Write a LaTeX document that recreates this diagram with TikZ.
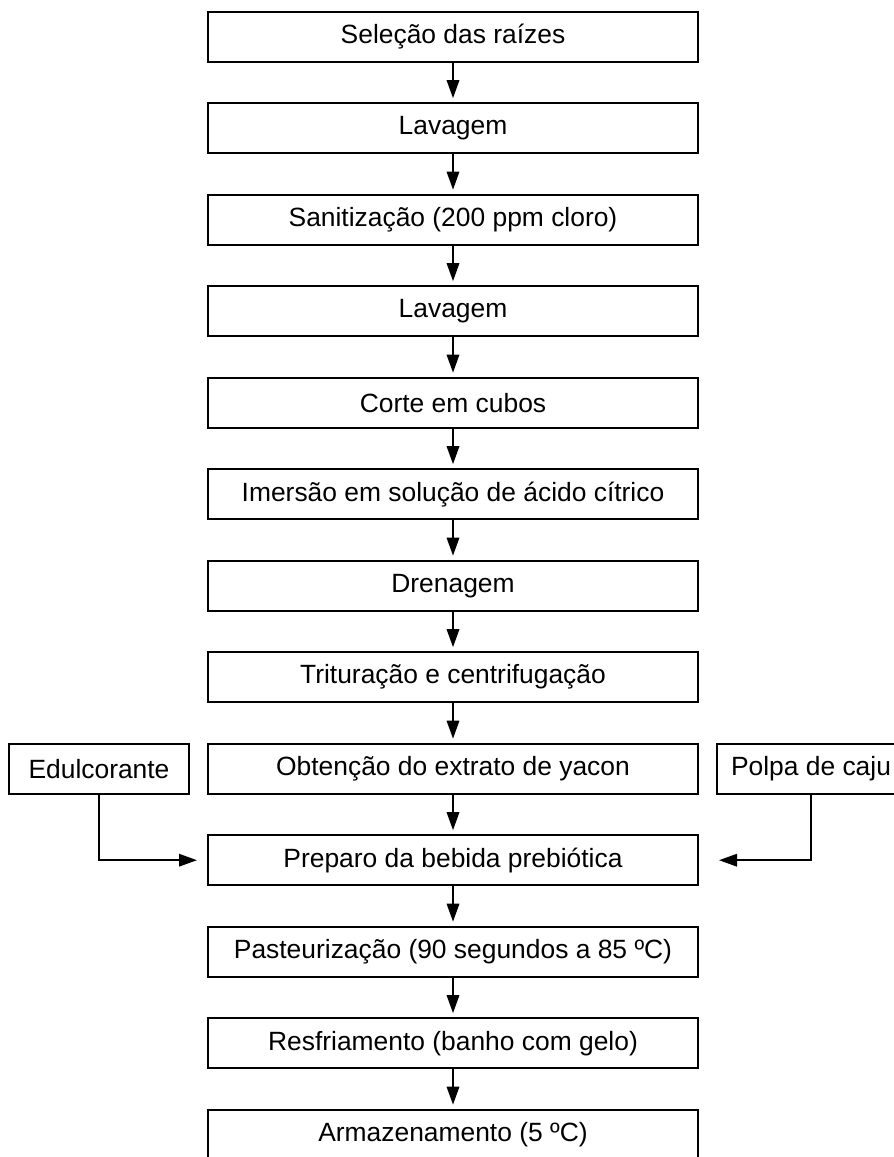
\documentclass[tikz,border=0pt]{standalone}
\usepackage{fontspec}
\setmainfont{Liberation Sans}
\usetikzlibrary{arrows.meta}

\begin{document}
\begin{tikzpicture}[x=0.5pt, y=-0.5pt,
        stepbox/.style={draw, line width=1pt, rectangle, minimum width=245pt, minimum height=25pt, inner sep=0pt, font=\fontsize{13.2}{15}\selectfont},
        sidebox/.style={stepbox, minimum width=90pt},
        flow/.style={line width=1pt, -{Triangle[length=9pt,width=6.2pt]}}]
            \useasboundingbox (0,0) rectangle (894,1157);
            \node[stepbox] (sel) at (453,36.7) {Seleção das raízes};
            \node[stepbox] (lav1) at (453,128.2) {Lavagem};
            \node[stepbox] (san) at (453,219.7) {Sanitização (200 ppm cloro)};
            \node[stepbox] (lav2) at (453,311.2) {Lavagem};
            \node[stepbox] (cor) at (453,402.7) {Corte em cubos};
            \node[stepbox] (ime) at (453,494.2) {Imersão em solução de ácido cítrico};
            \node[stepbox] (dre) at (453,585.7) {Drenagem};
            \node[stepbox] (tri) at (453,677.2) {Trituração e centrifugação};
            \node[stepbox] (obt) at (453,768.7) {Obtenção do extrato de yacon};
            \node[stepbox] (pre) at (453,860.2) {Preparo da bebida prebiótica};
            \node[stepbox] (pas) at (453,951.7) {Pasteurização (90 segundos a 85 ºC)};
            \node[stepbox] (res) at (453,1043.2) {Resfriamento (banho com gelo)};
            \node[stepbox] (arm) at (453,1134.7) {Armazenamento (5 ºC)};
            \node[sidebox] (edu) at (99,768.7) {Edulcorante};
            \node[sidebox, minimum width=94pt] (pol) at (811,768.7) {Polpa de caju};
            \draw[flow, shorten >=2pt] (sel) -- (lav1);
            \draw[flow, shorten >=2pt] (lav1) -- (san);
            \draw[flow, shorten >=2pt] (san) -- (lav2);
            \draw[flow, shorten >=2pt] (lav2) -- (cor);
            \draw[flow, shorten >=2pt] (cor) -- (ime);
            \draw[flow, shorten >=2pt] (ime) -- (dre);
            \draw[flow, shorten >=2pt] (dre) -- (tri);
            \draw[flow, shorten >=2pt] (tri) -- (obt);
            \draw[flow, shorten >=2pt] (obt) -- (pre);
            \draw[flow, shorten >=2pt] (pre) -- (pas);
            \draw[flow, shorten >=2pt] (pas) -- (res);
            \draw[flow, shorten >=2pt] (res) -- (arm);
            \draw[flow, shorten >=5pt] (edu.south) |- (pre.west);
            \draw[flow, shorten >=10pt] (pol.south) |- (pre.east);
        \end{tikzpicture}
\end{document}
